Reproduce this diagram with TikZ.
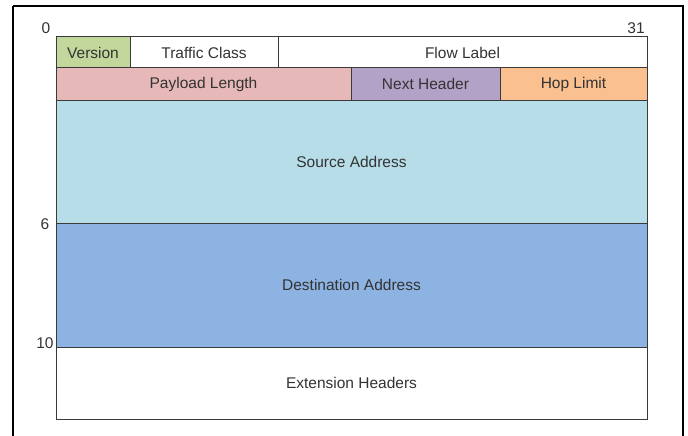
\documentclass[tikz,border=0pt]{standalone}
\usepackage{fontspec}
\setmainfont{Liberation Sans}
\definecolor{vergreen}{HTML}{C3D69B}
\definecolor{paypink}{HTML}{E6B9B8}
\definecolor{nhpurple}{HTML}{B3A2C7}
\definecolor{hoporange}{HTML}{FAC090}
\definecolor{srcblue}{HTML}{B7DDE8}
\definecolor{dstblue}{HTML}{8DB3E2}
\definecolor{txtgray}{HTML}{333333}
\definecolor{linegray}{HTML}{3A3A3A}
\begin{document}
\begin{tikzpicture}[x=1pt,y=-1pt,
  field/.style={draw=linegray, line width=1pt},
  lbl/.style={text=txtgray, font=\fontsize{15.5}{17}\selectfont},
  num/.style={text=txtgray, font=\fontsize{15.5}{17}\selectfont}]
\useasboundingbox (0,0) rectangle (688,436);
\fill[white] (0,0) rectangle (688,436);
\draw[line width=1.6pt, black] (13,6) -- (683,6) -- (683,440);
\draw[line width=1.6pt, black] (13,6) -- (13,440);
% row 1
\path[field, fill=vergreen] (56,37) rectangle (130,68);
\node[lbl] (ver) at (93,52.5) {Version};
\path[field, fill=white] (130,37) rectangle (278,68);
\node[lbl] (tc) at (204,52.5) {Traffic Class};
\path[field, fill=white] (278,37) rectangle (647,68);
\node[lbl] (fl) at (462.5,52.5) {Flow Label};
% row 2
\path[field, fill=paypink] (56,68) rectangle (351,100);
\node[lbl] (pl) at (203.5,84) {Payload Length};
\path[field, fill=nhpurple] (351,68) rectangle (500,100);
\node[lbl] (nh) at (425.5,84) {Next Header};
\path[field, fill=hoporange] (500,68) rectangle (647,100);
\node[lbl] (hl) at (573.5,84) {Hop Limit};
% addresses
\path[field, fill=srcblue] (56,100) rectangle (647,223);
\node[lbl] (src) at (351.5,161.5) {Source Address};
\path[field, fill=dstblue] (56,223) rectangle (647,347);
\node[lbl] (dst) at (351.5,285) {Destination Address};
\path[field, fill=white] (56,347) rectangle (647,419);
\node[lbl] (ext) at (351.5,383) {Extension Headers};
% numbers
\node[num] (n0) at (46,28) {0};
\node[num] (n31) at (636,28) {31};
\node[num] (n6) at (45,224) {6};
\node[num] (n10) at (45,343) {10};
\end{tikzpicture}
\end{document}
